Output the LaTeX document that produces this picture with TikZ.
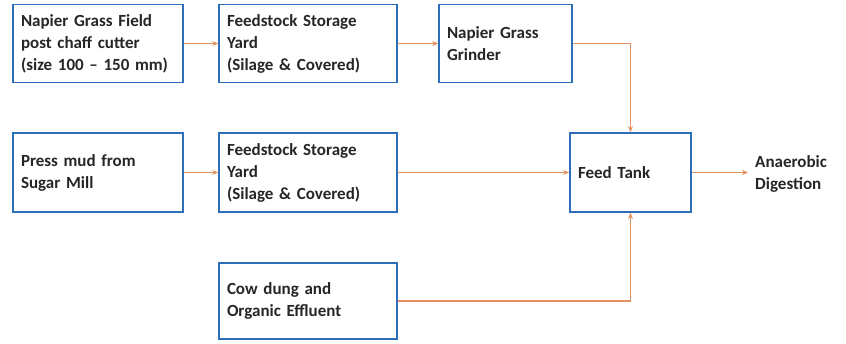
\documentclass[tikz,border=0pt]{standalone}
\usepackage{fontspec}
\setmainfont{Carlito}
\usetikzlibrary{arrows.meta}
\definecolor{boxblue}{HTML}{2E6DB8}
\definecolor{lineor}{HTML}{E0915E}
\tikzset{
  stagebox/.style={draw=boxblue, line width=1.6pt, fill=white, rectangle, align=left,
    inner xsep=8pt, inner ysep=0pt, font=\bfseries\fontsize{17}{22}\selectfont,
    text=black!85},
  flow/.style={draw=lineor, line width=1.3pt, -{Stealth[length=6pt,width=5pt]}},
}
\begin{document}
\begin{tikzpicture}[x=1pt,y=-1pt]
\useasboundingbox (0,0) rectangle (846,343);
\node[stagebox, minimum width=170pt, minimum height=78pt, text width=154pt] (field) at (98,43.5)
  {Napier Grass Field\\post chaff cutter\\(size 100 -- 150 mm)};
\node[stagebox, minimum width=178pt, minimum height=78pt, text width=162pt] (yard1) at (308,43.5)
  {Feedstock Storage\\Yard\\(Silage \& Covered)};
\node[stagebox, minimum width=133pt, minimum height=78pt, text width=117pt] (grinder) at (505.5,43.5)
  {Napier Grass\\Grinder};
\node[stagebox, minimum width=170pt, minimum height=79pt, text width=154pt] (mud) at (98,172.5)
  {Press mud from\\Sugar Mill};
\node[stagebox, minimum width=178pt, minimum height=79pt, text width=162pt] (yard2) at (308,172.5)
  {Feedstock Storage\\Yard\\(Silage \& Covered)};
\node[stagebox, minimum width=121pt, minimum height=79pt, text width=105pt] (tank) at (630.5,172.5)
  {Feed Tank};
\node[stagebox, minimum width=178pt, minimum height=76pt, text width=162pt] (cow) at (308,301)
  {Cow dung and\\Organic Effluent};
\node[anchor=west, align=left, inner sep=0pt, font=\bfseries\fontsize{17}{22}\selectfont, text=black!85] (ad) at (755,174)
  {Anaerobic\\Digestion};
\coordinate (adin) at (748,172.5);
\draw[flow] (field) -- (yard1);
\draw[flow] (yard1) -- (grinder);
\draw[flow] (grinder.east) -| (tank.north);
\draw[flow] (mud) -- (yard2);
\draw[flow] (yard2) -- (tank);
\draw[flow] (tank.east) -- (adin);
\draw[flow] (cow.east) -| (tank.south);
\end{tikzpicture}
\end{document}
